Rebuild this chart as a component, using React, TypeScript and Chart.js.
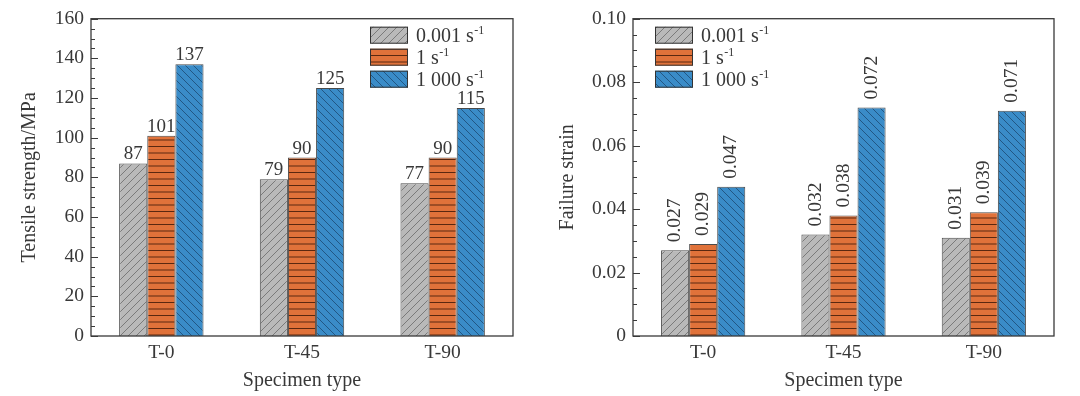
import React, { useEffect, useRef } from 'react';
import { Chart, registerables } from 'chart.js';

Chart.register(...registerables);

// ---------------- data ----------------
const categories = ['T-0', 'T-45', 'T-90'];
const rateLabels = ['0.001 s', '1 s', '1 000 s'];
const rateSuperscript = '-1';

const strengthSlow = [87, 79, 77];
const strengthMid = [101, 90, 90];
const strengthFast = [137, 125, 115];

const strainSlow = [0.027, 0.032, 0.031];
const strainMid = [0.029, 0.038, 0.039];
const strainFast = [0.047, 0.072, 0.071];

const strengthAxis = [0, 160, 20, 5]; // min, max, major step, minor step
const strainAxis = [0, 0.1, 0.02, 0.005];

const FONT = "'Liberation Serif', 'Times New Roman', serif";
const TEXT = '#383838';

function makePattern(kind: string): CanvasPattern {
  const c = document.createElement('canvas');
  const ctx = c.getContext('2d') as CanvasRenderingContext2D;
  if (kind === 'hline') {
    c.width = 8;
    c.height = 13;
    ctx.fillStyle = '#e0723a';
    ctx.fillRect(0, 0, 8, 13);
    ctx.strokeStyle = '#5a2810';
    ctx.lineWidth = 1;
    ctx.beginPath();
    ctx.moveTo(0, 3.5);
    ctx.lineTo(8, 3.5);
    ctx.moveTo(0, 10);
    ctx.lineTo(8, 10);
    ctx.stroke();
  } else {
    const s = 8;
    c.width = s;
    c.height = s;
    ctx.fillStyle = kind === 'slash' ? '#b9b9b9' : '#3a8cc8';
    ctx.fillRect(0, 0, s, s);
    ctx.strokeStyle = kind === 'slash' ? '#6a6a6a' : '#1c4a72';
    ctx.lineWidth = 0.8;
    ctx.beginPath();
    if (kind === 'slash') {
      ctx.moveTo(-1, s + 1); ctx.lineTo(s + 1, -1);
      ctx.moveTo(-1, 1); ctx.lineTo(1, -1);
      ctx.moveTo(s - 1, s + 1); ctx.lineTo(s + 1, s - 1);
    } else {
      ctx.moveTo(-1, -1); ctx.lineTo(s + 1, s + 1);
      ctx.moveTo(s - 1, -1); ctx.lineTo(s + 1, 1);
      ctx.moveTo(-1, s - 1); ctx.lineTo(1, s + 1);
    }
    ctx.stroke();
  }
  return ctx.createPattern(c, 'repeat') as CanvasPattern;
}

const decorPlugin = {
  id: 'decor',
  afterDatasetsDraw(chart: any, _args: any, opts: any) {
    const { ctx, chartArea } = chart;
    const yScale = chart.scales.y;
    ctx.save();
    // value labels
    ctx.fillStyle = TEXT;
    ctx.font = `${opts.labelSize}px ${FONT}`;
    chart.data.datasets.forEach((ds: any, i: number) => {
      const meta = chart.getDatasetMeta(i);
      meta.data.forEach((bar: any, j: number) => {
        const v = ds.data[j];
        const txt = opts.format(v);
        if (opts.rotated) {
          ctx.save();
          ctx.translate(bar.x, bar.y - 8);
          ctx.rotate(-Math.PI / 2);
          ctx.textAlign = 'left';
          ctx.textBaseline = 'middle';
          ctx.fillText(txt, 0, 0);
          ctx.restore();
        } else {
          ctx.textAlign = 'center';
          ctx.textBaseline = 'alphabetic';
          ctx.fillText(txt, bar.x, bar.y - 4);
        }
      });
    });
    // frame
    ctx.strokeStyle = '#3a3a3a';
    ctx.lineWidth = 1.3;
    ctx.strokeRect(chartArea.left, chartArea.top, chartArea.right - chartArea.left, chartArea.bottom - chartArea.top);
    // inward ticks
    const [mn, mx, major, minor] = opts.axis;
    const n = Math.round((mx - mn) / minor);
    const per = Math.round(major / minor);
    ctx.beginPath();
    for (let k = 0; k <= n; k++) {
      const v = mn + k * minor;
      const y = Math.round(yScale.getPixelForValue(v)) + 0.5;
      const len = k % per === 0 ? 7 : 4;
      ctx.moveTo(chartArea.left, y);
      ctx.lineTo(chartArea.left + len, y);
    }
    ctx.lineWidth = 1;
    ctx.stroke();
    // legend
    const lx = chartArea.left + opts.legendX;
    let ly = chartArea.top + opts.legendY;
    chart.data.datasets.forEach((ds: any, i: number) => {
      ctx.fillStyle = ds.backgroundColor;
      ctx.fillRect(lx, ly, 38, 17);
      ctx.strokeStyle = '#333';
      ctx.lineWidth = 1;
      ctx.strokeRect(lx + 0.5, ly + 0.5, 37, 16);
      ctx.fillStyle = TEXT;
      ctx.textAlign = 'left';
      ctx.textBaseline = 'alphabetic';
      ctx.font = `20px ${FONT}`;
      const base = rateLabels[i];
      const tx = lx + 46;
      const ty = ly + 15;
      ctx.fillText(base, tx, ty);
      const w = ctx.measureText(base).width;
      ctx.font = `12px ${FONT}`;
      ctx.fillText(rateSuperscript, tx + w + 0.5, ty - 8);
      ly += 22;
    });
    ctx.restore();
  },
};

function makeConfig(
  slow: number[], mid: number[], fast: number[], axis: number[], yTitle: string,
  yWidth: number, titlePad: number, rightPad: number, rotated: boolean,
  format: (v: number) => string, tickFmt: (v: number) => string, legendX: number,
  patterns: CanvasPattern[]
): any {
  const tickFont = { family: FONT, size: 19.5 };
  const titleFont = { family: FONT, size: 20 };
  return {
    type: 'bar',
    data: {
      labels: categories,
      datasets: [slow, mid, fast].map((d, i) => ({
        label: rateLabels[i] + rateSuperscript,
        data: d,
        backgroundColor: patterns[i],
        borderColor: '#4a4a4a',
        borderWidth: 1,
        categoryPercentage: 0.6,
        barPercentage: 1,
      })),
    },
    options: {
      responsive: false,
      animation: false,
      layout: { padding: { top: 14, right: rightPad, left: 0, bottom: 0 } },
      plugins: {
        legend: { display: false },
        tooltip: { enabled: false },
        decor: { axis, rotated, format, legendX, legendY: 8, labelSize: rotated ? 19.5 : 19 },
      },
      scales: {
        x: {
          grid: { display: false, drawTicks: false },
          border: { display: false },
          ticks: { font: tickFont, color: TEXT, padding: 5 },
          title: { display: true, text: 'Specimen type', font: titleFont, color: TEXT, padding: { top: 0, bottom: 3 } },
          afterFit: (s: any) => { s.height = 60; },
        },
        y: {
          min: axis[0],
          max: axis[1],
          grid: { display: false, drawTicks: false },
          border: { display: false },
          ticks: { stepSize: axis[2], font: tickFont, color: TEXT, padding: 7, callback: (v: any) => tickFmt(Number(v)) },
          title: { display: true, text: yTitle, font: titleFont, color: TEXT, padding: { top: titlePad, bottom: 0 } },
          afterFit: (s: any) => { s.width = yWidth; },
        },
      },
    },
    plugins: [decorPlugin],
  };
}

export default function App() {
  const leftRef = useRef<HTMLCanvasElement>(null);
  const rightRef = useRef<HTMLCanvasElement>(null);

  useEffect(() => {
    document.body.style.margin = '0';
    const patterns = [makePattern('slash'), makePattern('hline'), makePattern('backslash')];
    const left = new Chart(
      leftRef.current as HTMLCanvasElement,
      makeConfig(strengthSlow, strengthMid, strengthFast, strengthAxis, 'Tensile strength/MPa', 91, 18, 27, false,
        (v) => String(v), (v) => String(Math.round(v)), 279, patterns)
    );
    const right = new Chart(
      rightRef.current as HTMLCanvasElement,
      makeConfig(strainSlow, strainMid, strainFast, strainAxis, 'Failure strain', 93, 16, 26, true,
        (v) => v.toFixed(3), (v) => (Math.abs(v) < 1e-9 ? '0' : v.toFixed(2)), 22, patterns)
    );
    return () => {
      left.destroy();
      right.destroy();
    };
  }, []);

  return (
    <div style={{ position: 'absolute', left: 0, top: 0, width: 1080, height: 396, background: '#fff', display: 'flex' }}>
      <canvas ref={leftRef} width={540} height={396} style={{ width: 540, height: 396 }} />
      <canvas ref={rightRef} width={540} height={396} style={{ width: 540, height: 396 }} />
    </div>
  );
}
